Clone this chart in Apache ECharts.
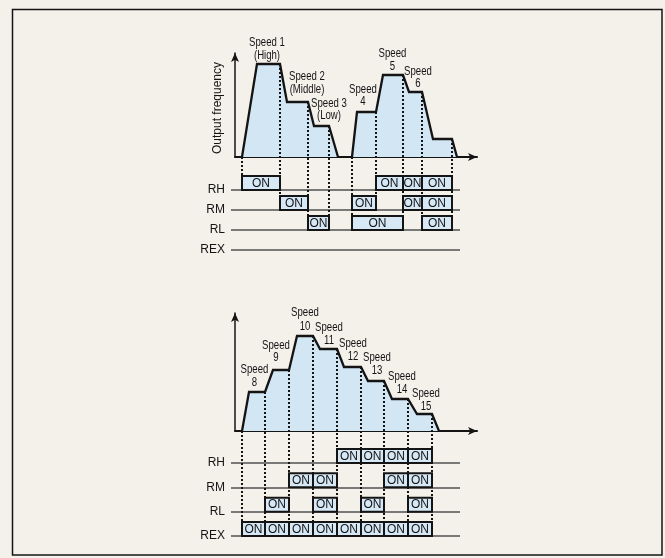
<!DOCTYPE html>
<html><head><meta charset="utf-8">
<script src="https://cdn.jsdelivr.net/npm/echarts@6/dist/echarts.min.js"></script>
<style>html,body{margin:0;padding:0;background:#f4f1eb}#c{width:665px;height:558px}</style>
</head><body><div id="c"></div>
<script>
// ---------- DATA (time units along the time axis, frequency units up) ----------
const ROWS = ['RH', 'RM', 'RL', 'REX'];

// Top diagram: output frequency profile (two runs)
const TOP_FREQ_A = [[7,0],[22,93],[45,93],[52,55],[73,55],[79,31],[94,31],[103,0]];
const TOP_FREQ_B = [[117,0],[122,45],[141,45],[148,82],[168,82],[174,65],[187,65],[198,18],[217,18],[222,0]];
const TOP_SWITCH = [7,45,73,94,117,141,168,187,217];
const TOP_RH  = [[7,45],[141,168],[168,187],[187,217]];
const TOP_RM  = [[45,73],[117,141],[168,187],[187,217]];
const TOP_RL  = [[73,94],[117,168],[187,217]];
const TOP_REX = [];
const TOP_LABELS = [
  ['Speed 1','(High)'], ['Speed 2','(Middle)'], ['Speed 3','(Low)'],
  ['Speed','4'], ['Speed','5'], ['Speed','6']
];

// Bottom diagram: speeds 8..15
const BOT_FREQ = [[7,0],[14,39],[30,39],[38,61],[54,61],[62,95],[78,95],[85,82],[102,82],[109,64],[126,64],[133,50],[149,50],[157,32],[173,32],[182,17],[197,17],[204,0]];
const BOT_SWITCH = [7,30,54,78,102,126,149,173,197];
const BOT_RH  = [[102,126],[126,149],[149,173],[173,197]];
const BOT_RM  = [[54,78],[78,102],[149,173],[173,197]];
const BOT_RL  = [[30,54],[78,102],[126,149],[173,197]];
const BOT_REX = [[7,30],[30,54],[54,78],[78,102],[102,126],[126,149],[149,173],[173,197]];
const BOT_LABELS = [
  ['Speed','8'],['Speed','9'],['Speed','10'],['Speed','11'],
  ['Speed','12'],['Speed','13'],['Speed','14'],['Speed','15']
];
const Y_TITLE = 'Output frequency';

// ---------- LAYOUT / STYLE ----------
const BG = '#f4f1eb', INK = '#141414', FILL = '#d3e6f4', BOXFILL = '#d6e8f6', ROWLINE = '#505050';
const BOX_H = 14;
const FONT = '"Liberation Sans", Arial, Helvetica, sans-serif';
const P = [
  { A:{left:235, top:53,  width:242, height:104}, yMax:104, B:{left:231, top:190, width:229, height:60} },
  { A:{left:235, top:313, width:242, height:118}, yMax:118, B:{left:231, top:463, width:229, height:73} }
];
// label anchor positions (annotation placement, px)
const TOP_LABEL_POS = [[267,43,55.5],[307,77,89.5],[329,103.5,116],[363,90,102],[392.5,54,67],[418,72,84]];
const BOT_LABEL_POS = [[254.5,370,383],[276,346,358],[305,313,326.5],[329,327.5,341],[353,343.5,356.5],[377,358,371],[402,377,390],[426,394,406.5]];

function boxesData(rowsArr){
  const out = [];
  rowsArr.forEach((arr, r) => arr.forEach(seg => out.push([seg[0], seg[1], r])));
  return out;
}
function dottedData(switches, curves, rowsArr){
  return switches.map(t => {
    let f = 0;
    curves.forEach(c => c.forEach(p => { if (p[0] === t) f = Math.max(f, p[1]); }));
    let low = 0;
    rowsArr.forEach((arr, r) => arr.forEach(seg => { if (seg[0] === t || seg[1] === t) low = Math.max(low, r); }));
    return [t, f, low];
  });
}

const grids = [], xAxes = [], yAxes = [], series = [];
function addPanel(pi, curves, switches, rowsArr){
  const L = P[pi];
  const gA = grids.length, gB = gA + 1;
  grids.push(Object.assign({containLabel:false}, L.A));
  grids.push(Object.assign({containLabel:false}, L.B));
  const axisLineA = {show:true, onZero:false, symbol:['none','arrow'], symbolSize:[6,9], lineStyle:{color:INK, width:2}};
  xAxes.push({gridIndex:gA, type:'value', min:0, max:L.A.width, axisLine:axisLineA, axisTick:{show:false}, axisLabel:{show:false}, splitLine:{show:false}});
  yAxes.push({gridIndex:gA, type:'value', min:0, max:L.yMax, axisLine:Object.assign({}, axisLineA, {lineStyle:{color:INK, width:1.5}}), axisTick:{show:false}, axisLabel:{show:false}, splitLine:{show:false}});
  xAxes.push({gridIndex:gB, type:'value', min:-(L.A.left - L.B.left), max:L.B.width - (L.A.left - L.B.left), show:false});
  yAxes.push({gridIndex:gB, type:'category', data:ROWS, inverse:true, boundaryGap:false,
    axisLine:{show:false}, axisTick:{show:false},
    axisLabel:{show:true, interval:0, margin:6, fontSize:12, fontFamily:FONT, color:INK},
    splitLine:{show:true, interval:0, lineStyle:{color:ROWLINE, width:1.5}}});
  curves.forEach(c => series.push({type:'line', xAxisIndex:gA, yAxisIndex:gA, data:c, symbol:'none',
    lineStyle:{color:INK, width:2.3, join:'miter'}, areaStyle:{color:FILL, opacity:1}, z:2, silent:true}));
  const bTop = L.B.top, rowGap = L.B.height / (ROWS.length - 1);
  series.push({type:'custom', xAxisIndex:gA, yAxisIndex:gA, data:dottedData(switches, curves, rowsArr), z:3, silent:true,
    encode:{x:0, y:1},
    renderItem:(params, api) => {
      const p = api.coord([api.value(0), api.value(1)]);
      const yb = bTop + rowGap * api.value(2) - BOX_H;
      return {type:'line', shape:{x1:p[0], y1:p[1], x2:p[0], y2:yb},
        style:{stroke:INK, lineWidth:2, lineDash:[2,2]}};
    }});
  series.push({type:'custom', xAxisIndex:gB, yAxisIndex:gB, data:boxesData(rowsArr), z:4, silent:true,
    encode:{x:[0,1], y:2},
    renderItem:(params, api) => {
      const s = api.coord([api.value(0), api.value(2)]);
      const e = api.coord([api.value(1), api.value(2)]);
      return {type:'group', children:[
        {type:'rect', shape:{x:s[0], y:s[1]-BOX_H, width:e[0]-s[0], height:BOX_H},
          style:{fill:BOXFILL, stroke:INK, lineWidth:2}},
        {type:'text', style:{text:'ON', x:(s[0]+e[0])/2, y:s[1]-BOX_H/2+0.5, align:'center', verticalAlign:'middle',
          font:'12px ' + FONT, fill:INK}}
      ]};
    }});
}
addPanel(0, [TOP_FREQ_A, TOP_FREQ_B], TOP_SWITCH, [TOP_RH, TOP_RM, TOP_RL, TOP_REX]);
addPanel(1, [BOT_FREQ], BOT_SWITCH, [BOT_RH, BOT_RM, BOT_RL, BOT_REX]);

const graphics = [
  {type:'rect', shape:{x:12.5, y:9.5, width:649.5, height:545.5}, style:{fill:'none', stroke:INK, lineWidth:1.5}, z:1},
  {type:'text', x:218, y:108, rotation:Math.PI/2, style:{text:Y_TITLE, x:0, y:0, align:'center', verticalAlign:'middle', font:'12px ' + FONT, fill:INK}, z:10}
];
function addLabels(labels, pos){
  labels.forEach((lab, i) => {
    const [x, y1, y2] = pos[i];
    [[lab[0], y1], [lab[1], y2]].forEach(([t, y]) => graphics.push({type:'text', x:x, y:y, scaleX:0.8,
      style:{text:t, x:0, y:0, align:'center', verticalAlign:'middle', font:'12px ' + FONT, fill:INK}, z:10}));
  });
}
addLabels(TOP_LABELS, TOP_LABEL_POS);
addLabels(BOT_LABELS, BOT_LABEL_POS);

const chart = echarts.init(document.getElementById('c'), null, {renderer:'canvas'});
chart.setOption({
  backgroundColor:BG, animation:false,
  grid:grids, xAxis:xAxes, yAxis:yAxes, series:series, graphic:graphics
});
</script></body></html>
